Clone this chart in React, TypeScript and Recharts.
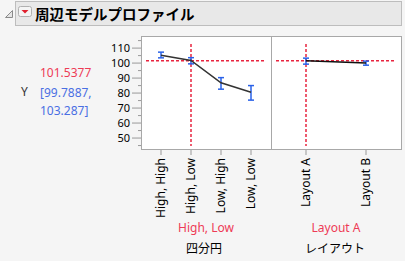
import React from 'react';
import { LineChart, Line, XAxis, YAxis, ErrorBar, ReferenceLine } from 'recharts';

const quadrants = ['High, High', 'High, Low', 'Low, High', 'Low, Low'];
const quadMean = [105.2, 101.8, 86.9, 80.6];
const quadLower = [103.5, 99.5, 82.6, 75.3];
const quadUpper = [107.3, 103.6, 90.3, 85.0];

const layouts = ['Layout A', 'Layout B'];
const layoutMean = [101.5, 100.1];
const layoutLower = [99.3, 98.6];
const layoutUpper = [103.3, 101.3];

const yTicks = [45, 50, 55, 60, 65, 70, 75, 80, 85, 90, 95, 100, 105, 110, 115];
const yDomain = [42.7, 117.4];

const predicted = 101.5377;
const ciLow = 99.7887;
const ciHigh = 103.287;
const currentQuadrant = 'High, Low';
const currentLayout = 'Layout A';

const quadData = quadrants.map((name, i) => ({
  name,
  mean: quadMean[i],
  err: [quadMean[i] - quadLower[i], quadUpper[i] - quadMean[i]],
}));
const layoutData = layouts.map((name, i) => ({
  name,
  mean: layoutMean[i],
  err: [layoutMean[i] - layoutLower[i], layoutUpper[i] - layoutMean[i]],
}));

const RED = '#e8243f';
const RED_TEXT = '#ee3b55';
const BLUE = '#2a62e8';
const BLUE_TEXT = '#4a6fe3';
const FONT = '"Noto Sans", "Noto Sans CJK JP", sans-serif';

const YTick = (p: any) => {
  const { x, y, payload } = p;
  const v = payload.value;
  const major = v % 10 === 0;
  return (
    <g>
      <line x1={x - (major ? 9 : 3)} x2={x} y1={y} y2={y} stroke="#999" />
      {major && (
        <text x={x - 11} y={y} dy="0.35em" textAnchor="end" fontSize={11} fill="#000" fontFamily={FONT}>
          {v}
        </text>
      )}
    </g>
  );
};

const XTick = (p: any) => {
  const { x, y, payload } = p;
  return (
    <g>
      <line x1={x} x2={x} y1={y + 1} y2={y + 6} stroke="#999" />
      <text
        transform={`translate(${x},${y + 9}) rotate(-90)`}
        dy="0.35em"
        textAnchor="end"
        fontSize={12}
        fill="#000"
        fontFamily={FONT}
      >
        {payload.value}
      </text>
    </g>
  );
};

const hLine = (p: any) => (
  <line x1={p.x1 + 5} x2={p.x2 - 7} y1={p.y1} y2={p.y2} stroke={RED} strokeWidth={1.5} strokeDasharray="3 2" />
);
const vLine = (p: any) => (
  <line x1={p.x1} x2={p.x2} y1={Math.min(p.y1, p.y2) + 7} y2={Math.max(p.y1, p.y2) - 3} stroke={RED} strokeWidth={1.5} strokeDasharray="3 2" />
);

const abs = (left: number, top: number, extra: React.CSSProperties = {}): React.CSSProperties => ({
  position: 'absolute',
  left,
  top,
  ...extra,
});

export default function App() {
  return (
    <div style={{ position: 'absolute', left: 0, top: 0, width: 405, height: 261, background: '#f5f5f5', fontFamily: FONT, overflow: 'hidden' }}>
      {/* title bar */}
      <div style={abs(15, 1, { width: 387, height: 25, background: '#e8e8e8', border: '1px solid #bdbdbd', boxSizing: 'border-box' })} />
      <svg style={abs(4, 9)} width={10} height={10}>
        <polygon points="8.5,1.5 8.5,8.5 1.5,8.5" fill="#e4e4e4" stroke="#8a8a8a" strokeWidth={1} />
      </svg>
      <svg style={abs(18, 6)} width={15} height={12}>
        <rect x={0.5} y={0.5} width={13} height={10} rx={2} fill="#f4f4f4" stroke="#b0b0b0" />
        <polygon points="3.5,4 10.5,4 7,7.5" fill="#e0202e" />
      </svg>
      <div style={abs(35, 3, { fontSize: 14.5, fontWeight: 'bold', lineHeight: '22px', color: '#000', fontFamily: '"Noto Sans CJK JP", sans-serif', whiteSpace: 'nowrap' })}>
        周辺モデルプロファイル
      </div>

      {/* left readout */}
      <div style={abs(21, 83, { fontSize: 12, lineHeight: '18px', color: '#333' })}>Y</div>
      <div style={abs(40, 64, { fontSize: 12, lineHeight: '18px', color: RED_TEXT, whiteSpace: 'nowrap' })}>{predicted}</div>
      <div style={abs(40, 84, { fontSize: 12, lineHeight: '18px', color: BLUE_TEXT, whiteSpace: 'nowrap' })}>[{ciLow},</div>
      <div style={abs(40, 102, { fontSize: 12, lineHeight: '18px', color: BLUE_TEXT, whiteSpace: 'nowrap' })}>{ciHigh}]</div>

      {/* plot frame */}
      <div style={abs(141, 36, { width: 261, height: 114, background: '#fff', border: '1px solid #a8a8a8', boxSizing: 'border-box' })} />
      <div style={abs(271, 36, { width: 1, height: 114, background: '#a8a8a8' })} />

      <div style={abs(0, 0)}>
        <LineChart width={271} height={261} data={quadData} margin={{ top: 37, right: 0, bottom: 0, left: 0 }}>
          <XAxis
            dataKey="name"
            type="category"
            scale="point"
            padding={{ left: 20, right: 20 }}
            height={112}
            interval={0}
            axisLine={false}
            tickLine={false}
            tickSize={0}
            tickMargin={0}
            tick={<XTick />}
          />
          <YAxis
            type="number"
            domain={yDomain}
            ticks={yTicks}
            interval={0}
            allowDataOverflow
            width={141}
            axisLine={false}
            tickLine={false}
            tickSize={0}
            tickMargin={0}
            tick={<YTick />}
          />
          <ReferenceLine y={predicted} shape={hLine} />
          <ReferenceLine x={currentQuadrant} shape={vLine} />
          <Line dataKey="mean" stroke="#333" strokeWidth={1.5} dot={false} isAnimationActive={false}>
            <ErrorBar dataKey="err" direction="y" width={3} stroke={BLUE} strokeWidth={1.5} isAnimationActive={false} />
          </Line>
        </LineChart>
      </div>

      <div style={abs(271, 0)}>
        <LineChart width={130} height={261} data={layoutData} margin={{ top: 37, right: 0, bottom: 0, left: 0 }}>
          <XAxis
            dataKey="name"
            type="category"
            scale="point"
            padding={{ left: 35, right: 35 }}
            height={112}
            interval={0}
            axisLine={false}
            tickLine={false}
            tickSize={0}
            tickMargin={0}
            tick={<XTick />}
          />
          <YAxis hide type="number" domain={yDomain} allowDataOverflow />
          <ReferenceLine y={predicted} shape={hLine} />
          <ReferenceLine x={currentLayout} shape={vLine} />
          <Line dataKey="mean" stroke="#111" strokeWidth={1.5} dot={false} isAnimationActive={false}>
            <ErrorBar dataKey="err" direction="y" width={3} stroke={BLUE} strokeWidth={1.5} isAnimationActive={false} />
          </Line>
        </LineChart>
      </div>

      {/* axis titles */}
      <div style={abs(146, 219, { width: 120, textAlign: 'center', fontSize: 12, lineHeight: '18px', color: RED_TEXT })}>{currentQuadrant}</div>
      <div style={abs(146, 239, { width: 116, textAlign: 'center', fontSize: 12, lineHeight: '18px', color: '#000', fontFamily: '"Noto Sans CJK JP", sans-serif' })}>四分円</div>
      <div style={abs(276, 219, { width: 120, textAlign: 'center', fontSize: 12, lineHeight: '18px', color: RED_TEXT })}>{currentLayout}</div>
      <div style={abs(276, 239, { width: 118, textAlign: 'center', fontSize: 12, lineHeight: '18px', color: '#000', fontFamily: '"Noto Sans CJK JP", sans-serif' })}>レイアウト</div>
    </div>
  );
}
